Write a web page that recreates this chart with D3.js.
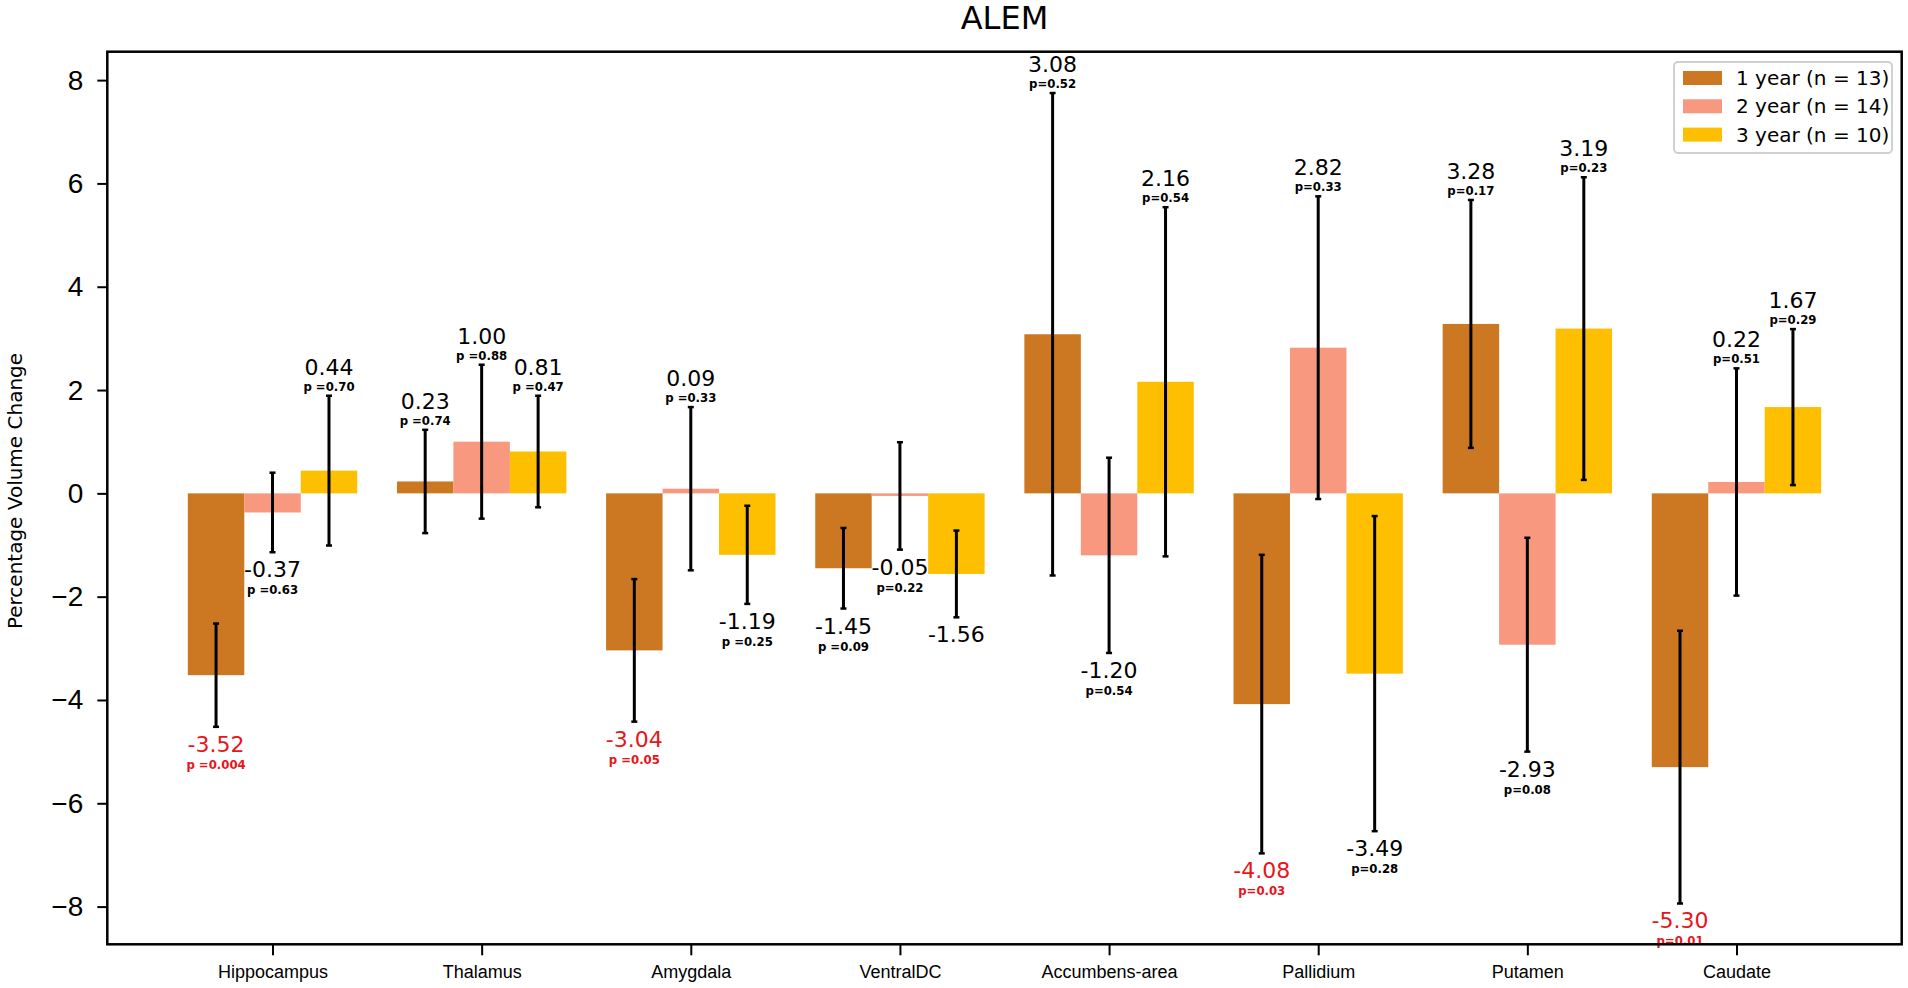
<!DOCTYPE html>
<meta charset="utf-8">
<style>
body { margin: 0; background: #fff; }
svg { display: block; font-family: "DejaVu Sans", sans-serif; }
.axis path { display: none; }
.axis line { stroke: #000; stroke-width: 2px; }
.ylab text { font-size: 28px; fill: #000; }
.xlab text { font-size: 18px; fill: #000; }
.val { font-size: 22px; text-anchor: middle; }
.pval { font-family: "Liberation Sans Narrow", "DejaVu Sans Condensed", "Open Sans", sans-serif; font-weight: bold; font-size: 13px; text-anchor: middle; }
.err { stroke: #000; stroke-width: 3px; }
.cap { stroke: #000; stroke-width: 2.5px; }
</style>
<svg width="1908" height="988"></svg>
<script src="https://d3js.org/d3.v7.min.js"></script>
<script>

var categories = ["Hippocampus", "Thalamus", "Amygdala", "VentralDC", "Accumbens-area", "Pallidium", "Putamen", "Caudate"];
var seriesNames = ["1 year (n = 13)", "2 year (n = 14)", "3 year (n = 10)"];
var colors = ["#cc7722", "#f7987f", "#fdbf00"];

// mean percentage change per region
var year1 = [-3.52, 0.23, -3.04, -1.45, 3.08, -4.08, 3.28, -5.30];
var year2 = [-0.37, 1.00, 0.09, -0.05, -1.20, 2.82, -2.93, 0.22];
var year3 = [0.44, 0.81, -1.19, -1.56, 2.16, -3.49, 3.19, 1.67];

// error bar half-lengths
var err1 = [1.00, 1.00, 1.38, 0.78, 4.67, 2.89, 2.40, 2.64];
var err2 = [0.77, 1.49, 1.58, 1.04, 1.89, 2.93, 2.07, 2.20];
var err3 = [1.45, 1.08, 0.95, 0.84, 3.38, 3.05, 2.93, 1.51];

// p-value labels (null = no label)
var p1 = ["p =0.004", "p =0.74", "p =0.05", "p =0.09", "p=0.52", "p=0.03", "p=0.17", "p=0.01"];
var p2 = ["p =0.63", "p =0.88", "p =0.33", "p=0.22", "p=0.54", "p=0.33", "p=0.08", "p=0.51"];
var p3 = ["p =0.70", "p =0.47", "p =0.25", null, "p=0.54", "p=0.28", "p=0.23", "p=0.29"];

var yTicks = [-8, -6, -4, -2, 0, 2, 4, 6, 8];

var svg = d3.select("svg");
var mLeft = 107.3, mRight = 1901.7, mTop = 51.7, mBottom = 944.3;

var x = d3.scaleLinear().domain([-0.79, 7.79]).range([mLeft, mRight]);
var y = d3.scaleLinear().domain([-8.73, 8.55]).range([mBottom, mTop]);
var barW = 0.27;

var groups = [
  {vals: year1, errs: err1, ps: p1},
  {vals: year2, errs: err2, ps: p2},
  {vals: year3, errs: err3, ps: p3}
];

var rows = [];
groups.forEach(function(g, s) {
  g.vals.forEach(function(v, i) {
    rows.push({s: s, i: i, v: v, e: g.errs[i], p: g.ps[i], cx: i + (s - 1) * barW});
  });
});

// bars
svg.append("g").selectAll("rect")
  .data(rows)
  .enter().append("rect")
    .attr("x", function(d) { return x(d.cx - barW / 2); })
    .attr("width", function(d) { return x(barW) - x(0); })
    .attr("y", function(d) { return y(Math.max(0, d.v)); })
    .attr("height", function(d) { return Math.abs(y(d.v) - y(0)); })
    .style("fill", function(d) { return colors[d.s]; });

// error bars
var eb = svg.append("g").selectAll("g")
  .data(rows)
  .enter().append("g");

eb.append("line").attr("class", "err")
  .attr("x1", function(d) { return x(d.cx); })
  .attr("x2", function(d) { return x(d.cx); })
  .attr("y1", function(d) { return y(d.v + d.e); })
  .attr("y2", function(d) { return y(d.v - d.e); });

[1, -1].forEach(function(sg) {
  eb.append("line").attr("class", "cap")
    .attr("x1", function(d) { return x(d.cx) - 3; })
    .attr("x2", function(d) { return x(d.cx) + 3; })
    .attr("y1", function(d) { return y(d.v + sg * d.e); })
    .attr("y2", function(d) { return y(d.v + sg * d.e); });
});

// value and p labels
function isSig(d) { return d.p && parseFloat(d.p.split("=")[1]) <= 0.05; }

eb.append("text").attr("class", "val")
  .attr("x", function(d) { return x(d.cx); })
  .attr("y", function(d) { return d.v >= 0 ? y(d.v + d.e) - 21 : y(d.v - d.e) + 25; })
  .style("fill", function(d) { return isSig(d) ? "#e8141b" : "#000"; })
  .text(function(d) { return d.v.toFixed(2); });

eb.filter(function(d) { return d.p; }).append("text").attr("class", "pval")
  .attr("x", function(d) { return x(d.cx); })
  .attr("y", function(d) { return d.v >= 0 ? y(d.v + d.e) - 5 : y(d.v - d.e) + 42; })
  .style("fill", function(d) { return isSig(d) ? "#e8141b" : "#000"; })
  .text(function(d) { return d.p; });

// axes
svg.append("g").attr("class", "axis ylab")
  .attr("transform", "translate(" + mLeft + ",0)")
  .call(d3.axisLeft(y).tickValues(yTicks).tickSize(10).tickPadding(14));

svg.append("g").attr("class", "axis xlab")
  .attr("transform", "translate(0," + mBottom + ")")
  .call(d3.axisBottom(x).tickValues(d3.range(categories.length))
    .tickFormat(function(i) { return categories[i]; }).tickSize(11).tickPadding(10));

svg.append("rect")
  .attr("x", mLeft).attr("y", mTop)
  .attr("width", mRight - mLeft).attr("height", mBottom - mTop)
  .style("fill", "none").style("stroke", "#000").style("stroke-width", 2.5);

// title and axis label
svg.append("text")
  .attr("x", (mLeft + mRight) / 2).attr("y", 29)
  .attr("text-anchor", "middle")
  .style("font-size", "32px")
  .text("ALEM");

svg.append("text")
  .attr("transform", "translate(22,491) rotate(-90)")
  .attr("text-anchor", "middle")
  .style("font-size", "20px")
  .text("Percentage Volume Change");

// legend
var lg = svg.append("g").attr("transform", "translate(1674,62)");
lg.append("rect")
  .attr("width", 218).attr("height", 91).attr("rx", 4)
  .style("fill", "#fff").style("fill-opacity", 0.8)
  .style("stroke", "#d0d0d0").style("stroke-width", 2);

var li = lg.selectAll(".li")
  .data(seriesNames)
  .enter().append("g")
    .attr("transform", function(d, i) { return "translate(9," + (16 + i * 28.3) + ")"; });

li.append("rect")
  .attr("y", -7).attr("width", 39).attr("height", 14)
  .style("fill", function(d, i) { return colors[i]; });

li.append("text")
  .attr("x", 53).attr("y", 7)
  .style("font-size", "20px")
  .text(function(d) { return d; });

</script>
